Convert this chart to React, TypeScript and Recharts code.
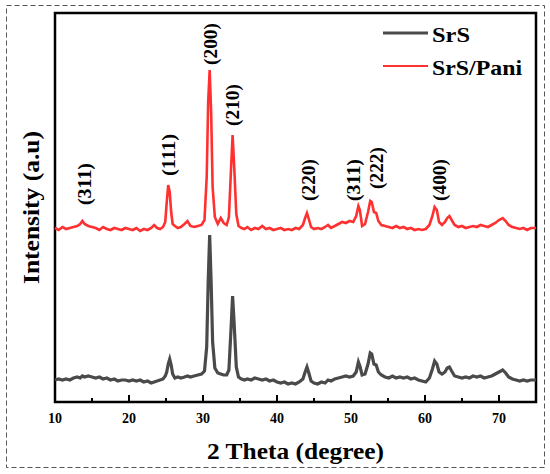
import React from "react";
import { ComposedChart, Line, Scatter, XAxis, YAxis, ReferenceArea, Label } from "recharts";

// 2θ positions (degree), shared by both patterns
const twoTheta = [
  10, 10.5, 11, 11.5, 12, 12.5, 13, 13.4, 13.7, 14,
  14.5, 15, 15.5, 16, 16.5, 17, 17.5, 18, 18.5, 19,
  19.5, 20, 20.5, 21, 21.5, 22, 22.5, 23, 23.4, 23.8,
  24.2, 24.6, 24.9, 25.1, 25.3, 25.5, 25.7, 25.9, 26.2, 26.6,
  27, 27.5, 27.9, 28.3, 28.8, 29.3, 29.8, 30.2, 30.5, 30.7,
  30.9, 31.1, 31.3, 31.6, 32, 32.4, 32.8, 33.2, 33.5, 33.8,
  34, 34.2, 34.5, 34.8, 35.2, 35.6, 36, 36.5, 37, 37.5,
  38, 38.5, 39, 39.5, 40, 40.5, 41, 41.5, 42, 42.5,
  43, 43.5, 43.8, 44.05, 44.3, 44.6, 45, 45.5, 46, 46.5,
  46.9, 47.3, 47.8, 48.3, 48.8, 49.3, 49.8, 50.3, 50.7, 51,
  51.2, 51.5, 51.9, 52.3, 52.6, 52.8, 53.1, 53.4, 53.7, 54.1,
  54.6, 55.1, 55.6, 56.1, 56.6, 57.1, 57.6, 58.1, 58.6, 59.1,
  59.6, 60.1, 60.6, 61, 61.3, 61.6, 61.9, 62.3, 62.7, 63,
  63.3, 63.6, 64, 64.5, 65, 65.5, 66, 66.5, 67, 67.5,
  68, 68.5, 69, 69.5, 70, 70.5, 70.9, 71.3, 71.8, 72.3,
  72.8, 73.3, 73.8, 74.3, 75,
];

// SrS intensity (a.u)
const srs = [
  22, 23, 22, 23, 22, 24, 25, 24, 26, 25,
  26, 25, 24, 25, 23, 24, 22, 23, 21, 22,
  22, 21, 22, 21, 22, 20, 21, 19, 20, 21,
  22, 23, 26, 30, 38, 43, 37, 28, 24, 25,
  24, 25, 26, 25, 26, 27, 28, 31, 55, 120,
  167, 120, 60, 34, 29, 28, 27, 27, 32, 75,
  106, 80, 35, 25, 23, 22, 23, 22, 24, 23,
  22, 23, 21, 22, 20, 19, 20, 18, 19, 18,
  20, 23, 30, 35, 29, 21, 19, 18, 20, 19,
  22, 21, 23, 24, 25, 26, 25, 26, 30, 40,
  36, 27, 28, 38, 49, 48, 38, 37, 30, 27,
  25, 24, 26, 24, 25, 24, 25, 23, 24, 22,
  21, 20, 24, 33, 41, 38, 30, 28, 30, 34,
  35, 31, 26, 25, 24, 25, 24, 26, 25, 26,
  24, 25, 26, 28, 30, 32, 29, 25, 23, 22,
  21, 22, 21, 22, 22,
];

// SrS/Pani intensity (a.u), stacked above SrS as in the figure
const srsPani = [
  174, 172, 175, 173, 174, 175, 176, 178, 181, 178,
  176, 175, 174, 172, 175, 173, 172, 174, 173, 172,
  174, 173, 172, 174, 171, 173, 172, 174, 177, 174,
  173, 175, 180, 200, 217, 210, 190, 178, 176, 174,
  175, 178, 181, 176, 175, 176, 177, 182, 225, 300,
  332, 290, 215, 185, 178, 184, 179, 177, 185, 235,
  267, 238, 188, 176, 174, 173, 175, 172, 174, 173,
  176, 173, 174, 172, 173, 174, 172, 173, 172, 174,
  173, 177, 184, 189, 183, 175, 173, 174, 173, 175,
  177, 174, 176, 178, 180, 179, 181, 180, 186, 196,
  192, 176, 178, 190, 201, 200, 190, 189, 181, 177,
  176, 175, 174, 176, 174, 175, 173, 174, 172, 173,
  172, 173, 177, 186, 195, 192, 180, 177, 180, 184,
  186, 182, 177, 175, 176, 174, 175, 176, 175, 177,
  176, 175, 177, 179, 182, 184, 181, 177, 175, 174,
  173, 174, 172, 174, 174,
];

// Miller index labels above the SrS/Pani peaks
const peakNames = ["(311)", "(111)", "(200)", "(210)", "(220)", "(311)", "(222)", "(400)"];
const peakTheta = [14.05, 25.3, 30.95, 34.05, 44.2, 50.3, 53.5, 62.0];
const peakLabelLevel = [218, 247, 358, 297, 222, 222, 234, 222];

const thetaTicks = [10, 15, 20, 25, 30, 35, 40, 45, 50, 55, 60, 65, 70];

const FONT = "'Liberation Serif', 'Times New Roman', serif";
const GRAY = "#4a4a4a";
const RED = "#ff3030";

const chartData = twoTheta.map((t, i) => ({ theta: t, srs: srs[i], pani: srsPani[i] }));
const peakData = peakTheta.map((t, i) => ({ theta: t, level: peakLabelLevel[i], name: peakNames[i] }));

const ThetaTick = (props: any) => {
  const { x, y, payload } = props;
  const major = payload.value % 10 === 0;
  return (
    <g>
      <line x1={x} x2={x} y1={y} y2={y - (major ? 7 : 4)} stroke="#000" strokeWidth={2} />
      {major && (
        <text x={x} y={y + 21} textAnchor="middle" fontFamily={FONT} fontWeight="bold" fontSize={14} fill="#000">
          {payload.value}
        </text>
      )}
    </g>
  );
};

const PeakLabel = (props: any) => {
  const { cx, cy, payload } = props;
  return (
    <text
      x={cx}
      y={cy}
      transform={`rotate(-90 ${cx} ${cy})`}
      textAnchor="middle"
      dominantBaseline="central"
      fontFamily={FONT}
      fontWeight="bold"
      fontSize={19}
      textLength={42}
      lengthAdjust="spacingAndGlyphs"
      fill="#000"
    >
      {payload.name}
    </text>
  );
};

export default function App() {
  return (
    <div style={{ position: "absolute", left: 0, top: 0, width: 550, height: 474, background: "#fff" }}>
      <ComposedChart width={550} height={474} data={chartData} margin={{ top: 13, right: 14, bottom: 0, left: 0 }}>
        <XAxis
          dataKey="theta"
          type="number"
          domain={[10, 75]}
          ticks={thetaTicks}
          interval={0}
          tickSize={0}
          tickMargin={0}
          tickLine={false}
          axisLine={false}
          tick={ThetaTick}
          height={72}
        >
          <Label
            content={(p: any) => {
              const vb = p.viewBox;
              return (
                <text x={vb.x + vb.width / 2} y={vb.y + 57} textAnchor="middle" fontFamily={FONT} fontWeight="bold" fontSize={23} textLength={177} lengthAdjust="spacingAndGlyphs" fill="#000">
                  2 Theta (degree)
                </text>
              );
            }}
          />
        </XAxis>
        <YAxis type="number" domain={[0, 389]} allowDataOverflow tick={false} tickLine={false} axisLine={false} width={55}>
          <Label
            content={(p: any) => {
              const vb = p.viewBox;
              const cx = 31;
              const cy = vb.y + vb.height / 2;
              return (
                <text x={cx} y={cy} transform={`rotate(-90 ${cx} ${cy})`} textAnchor="middle" dominantBaseline="central" fontFamily={FONT} fontWeight="bold" fontSize={23} textLength={153} lengthAdjust="spacingAndGlyphs" fill="#000">
                  Intensity (a.u)
                </text>
              );
            }}
          />
        </YAxis>
        <Line type="linear" dataKey="srs" stroke={GRAY} strokeWidth={3.2} dot={false} isAnimationActive={false} />
        <Line type="linear" dataKey="pani" stroke={RED} strokeWidth={2.6} dot={false} isAnimationActive={false} />
        <Scatter data={peakData} dataKey="level" shape={PeakLabel} isAnimationActive={false} />
        <ReferenceArea x1={10} x2={75} y1={0} y2={389} fill="none" stroke="#000" strokeWidth={2.5} ifOverflow="visible" />
      </ComposedChart>
      <svg width={550} height={474} style={{ position: "absolute", left: 0, top: 0, pointerEvents: "none" }}>
        <rect x={6.5} y={5.5} width={538} height={462} fill="none" stroke="#555" strokeWidth={1} strokeDasharray="5 3" />
        <line x1={383} x2={428} y1={33} y2={33} stroke={GRAY} strokeWidth={3} />
        <text x={432} y={42} fontFamily={FONT} fontWeight="bold" fontSize={22} textLength={38} lengthAdjust="spacingAndGlyphs" fill="#000">SrS</text>
        <line x1={383} x2={428} y1={66} y2={66} stroke={RED} strokeWidth={2} />
        <text x={432} y={75} fontFamily={FONT} fontWeight="bold" fontSize={22} textLength={90} lengthAdjust="spacingAndGlyphs" fill="#000">SrS/Pani</text>
      </svg>
    </div>
  );
}
